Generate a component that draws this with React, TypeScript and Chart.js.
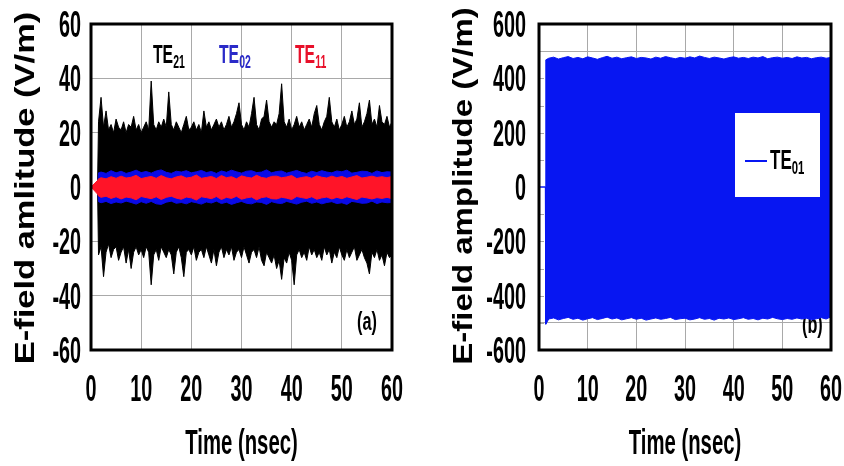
import React, { useEffect, useRef } from 'react';
import { Chart, registerables } from 'chart.js';

Chart.register(...registerables);

// ---------- axis ticks ----------
const X_TICKS = [0, 10, 20, 30, 40, 50, 60];
const Y_TICKS_A = [60, 40, 20, 0, -20, -40, -60];
const Y_TICKS_B = [600, 400, 200, 0, -200, -400, -600];
const Y_MINOR_B = [500, 400, 300, 200, 100, -100, -200, -300, -400, -500];

// ---------- time samples (ns) ----------
const T_FINE = [0, 1.3, ...Array.from({ length: 118 }, (_, i) => 1.5 + i * 0.5)];
const T_COARSE = [0, 1.3, 1.5, ...Array.from({ length: 59 }, (_, i) => 2 + i)];
const T_B = [0, 1.3, 1.4, ...Array.from({ length: 59 }, (_, i) => 2 + i)];

// ---------- panel (a): TE21 envelope (V/m) ----------
const TE21_HI = [0, 0,
  24, 33, 22, 28, 21, 23, 20, 25, 22, 21,
  24, 20, 23, 22, 26, 21, 23, 20, 22, 24,
  21, 39, 23, 21, 24, 22, 25, 22, 35, 23,
  21, 24, 22, 20, 23, 26, 21, 22, 24, 21,
  23, 20, 28, 22, 24, 21, 23, 25, 22, 24,
  21, 23, 26, 22, 24, 27, 31, 23, 21, 24,
  22, 27, 33, 23, 21, 25, 26, 32, 24, 22,
  24, 23, 27, 38, 24, 22, 25, 21, 23, 26,
  22, 24, 21, 23, 25, 22, 27, 30, 23, 21,
  24, 26, 33, 24, 22, 25, 21, 23, 26, 22,
  24, 28, 23, 25, 31, 22, 24, 27, 32, 23,
  25, 22, 30, 24, 23, 26, 22, 24];
const TE21_LO = [0, 0,
  -25, -22, -33, -24, -21, -26, -23, -22, -27, -24,
  -22, -28, -23, -30, -24, -22, -25, -23, -26, -22,
  -24, -36, -25, -23, -27, -22, -24, -26, -23, -25,
  -32, -24, -22, -26, -33, -24, -23, -25, -22, -27,
  -24, -23, -26, -22, -25, -28, -23, -29, -24, -22,
  -26, -23, -25, -22, -27, -24, -23, -26, -22, -25,
  -28, -24, -23, -26, -22, -27, -29, -24, -26, -28,
  -25, -30, -27, -34, -26, -28, -24, -27, -36, -25,
  -23, -26, -24, -27, -22, -25, -23, -26, -24, -27,
  -22, -25, -23, -28, -24, -26, -22, -25, -27, -23,
  -26, -24, -22, -27, -25, -23, -26, -28, -32, -24,
  -26, -23, -27, -25, -29, -24, -26, -25];

// ---------- panel (a): TE02 envelope ----------
const TE02_HI = [0, 0, 5.2,
  5.5, 5.0, 6.0, 5.2, 5.8, 5.0, 5.5, 6.2, 5.3, 5.7,
  5.1, 5.9, 6.3, 5.4, 5.0, 5.8, 5.5, 6.0, 5.2, 5.6,
  6.1, 5.3, 5.7, 5.0, 5.9, 5.4, 6.2, 5.6, 5.1, 5.8,
  6.0, 5.3, 5.5, 6.3, 5.2, 5.7, 5.9, 5.1, 5.6, 6.1,
  5.4, 5.0, 5.8, 5.3, 6.0, 5.5, 5.2, 5.9, 5.6, 6.2,
  5.1, 5.4, 5.8, 5.7, 5.0, 5.9, 5.3, 5.6, 5.5];
const TE02_LO = [0, 0, -5.4,
  -5.8, -5.3, -6.1, -5.5, -5.9, -5.2, -5.7, -6.3, -5.4, -6.0,
  -5.3, -6.2, -6.4, -5.6, -5.2, -6.0, -5.7, -6.2, -5.4, -5.8,
  -6.3, -5.5, -5.9, -5.2, -6.1, -5.6, -6.4, -5.8, -5.3, -6.0,
  -6.2, -5.5, -5.7, -6.4, -5.4, -5.9, -6.1, -5.3, -5.8, -6.3,
  -5.6, -5.2, -6.0, -5.5, -6.2, -5.7, -5.4, -6.1, -5.8, -6.4,
  -5.3, -5.6, -6.0, -5.9, -5.2, -6.1, -5.5, -5.8, -5.7];

// ---------- panel (a): TE11 envelope ----------
const TE11_HI = [0, 2.4, 3.0,
  3.4, 3.0, 3.8, 3.2, 4.0, 3.3, 3.6, 4.3, 3.1, 3.5,
  3.9, 3.2, 4.2, 3.4, 3.0, 3.7, 4.1, 3.3, 3.6, 4.4,
  3.2, 3.5, 3.9, 3.1, 4.2, 3.4, 3.8, 3.0, 4.1, 3.6,
  3.3, 4.3, 3.5, 3.2, 3.9, 4.0, 3.4, 3.7, 4.2, 3.1,
  3.5, 3.8, 3.2, 4.1, 3.6, 3.3, 4.0, 3.4, 3.9, 3.2,
  3.7, 4.2, 3.3, 3.6, 4.0, 3.5, 3.8, 3.4, 3.9];
const TE11_LO = [0, -2.6, -3.3,
  -3.8, -3.4, -4.2, -3.6, -4.4, -3.7, -4.0, -4.7, -3.5, -3.9,
  -4.3, -3.6, -4.6, -3.8, -3.4, -4.1, -4.5, -3.7, -4.0, -4.8,
  -3.6, -3.9, -4.3, -3.5, -4.6, -3.8, -4.2, -3.4, -4.5, -4.0,
  -3.7, -4.7, -3.9, -3.6, -4.3, -4.4, -3.8, -4.1, -4.6, -3.5,
  -3.9, -4.2, -3.6, -4.5, -4.0, -3.7, -4.4, -3.8, -4.3, -3.6,
  -4.1, -4.6, -3.7, -4.0, -4.4, -3.9, -4.2, -3.8, -4.3];

// ---------- panel (b): TE01 envelope ----------
const TE01_HI = [0, 0, 468,
  474, 478, 471, 476, 480, 473, 477, 472, 479, 475,
  470, 476, 481, 474, 478, 472, 476, 479, 473, 477,
  475, 471, 478, 474, 480, 476, 472, 477, 474, 479,
  475, 482, 477, 473, 478, 475, 471, 476, 479, 474,
  477, 473, 478, 475, 480, 472, 476, 478, 474, 477,
  473, 479, 475, 477, 472, 476, 478, 474, 477];
const TE01_LO = [0, 0, -505,
  -486, -482, -489, -484, -480, -487, -483, -490, -485, -481,
  -488, -484, -479, -486, -482, -489, -485, -481, -487, -483,
  -490, -486, -482, -487, -484, -480, -488, -485, -483, -489,
  -486, -481, -487, -484, -490, -483, -486, -482, -488, -485,
  -481, -487, -484, -489, -483, -486, -480, -485, -488, -484,
  -487, -482, -486, -483, -489, -485, -481, -486, -478];

const COL_BLACK = '#000000';
const COL_BLUE = '#0a0ae6';
const COL_RED = '#ff1428';
const COL_BLUE_B = '#0716f2';
const GRID = '#a9a9a9';
const FONT = '"Liberation Sans", Arial, sans-serif';

const pts = (t: number[], v: number[]) => v.map((y, i) => ({ x: t[i], y }));

type TxtOpt = { size: number; sx?: number; sy?: number; align?: CanvasTextAlign; color?: string; rot?: boolean };
function txt(ctx: CanvasRenderingContext2D, s: string, x: number, y: number, o: TxtOpt) {
  const { size, sx = 0.56, sy = 1, align = 'left', color = '#000', rot = false } = o;
  ctx.save();
  ctx.translate(x, y);
  if (rot) ctx.rotate(-Math.PI / 2);
  ctx.scale(sx, sy);
  ctx.font = `bold ${size}px ${FONT}`;
  ctx.fillStyle = color;
  ctx.textAlign = align;
  ctx.textBaseline = 'alphabetic';
  ctx.fillText(s, 0, 0);
  const w = ctx.measureText(s).width * sx;
  ctx.restore();
  return w;
}
function subTxt(ctx: CanvasRenderingContext2D, main: string, sub: string, x: number, base: number, color: string, size = 25) {
  const w = txt(ctx, main, x, base, { size, sx: 0.63, color });
  txt(ctx, sub, x + w, base + 5, { size: size * 0.7, sx: 0.6, color });
}

type Panel = {
  yTicks: number[];
  yLabelRight: number;
  yTitle: string;
  yTitleX: number;
  yTitleY: number;
  yTitleSize: number;
  yTitleSy: number;
  under?: (ctx: CanvasRenderingContext2D, chart: any) => void;
  over?: (ctx: CanvasRenderingContext2D, chart: any) => void;
};

function panelPlugin(p: Panel) {
  return {
    id: 'panelDecor',
    beforeDatasetsDraw(chart: any) {
      if (p.under) p.under(chart.ctx, chart);
    },
    afterDraw(chart: any) {
      const ctx: CanvasRenderingContext2D = chart.ctx;
      const { left, top, right, bottom } = chart.chartArea;
      const xs = chart.scales.x;
      const ys = chart.scales.y;
      // frame
      ctx.save();
      ctx.strokeStyle = '#000';
      ctx.lineWidth = 3;
      ctx.strokeRect(left, top, right - left, bottom - top);
      ctx.restore();
      // tick labels
      X_TICKS.forEach((v) => {
        txt(ctx, String(v), xs.getPixelForValue(v), 401, { size: 36, sx: 0.55, align: 'center' });
      });
      p.yTicks.forEach((v) => {
        txt(ctx, String(v), p.yLabelRight, ys.getPixelForValue(v) + 12.9, { size: 36, sx: 0.55, align: 'right' });
      });
      // titles
      txt(ctx, 'Time (nsec)', (left + right) / 2, 454, { size: 35, sx: 0.58, align: 'center' });
      txt(ctx, p.yTitle, p.yTitleX, p.yTitleY, { size: p.yTitleSize, sx: 1, sy: p.yTitleSy, align: 'center', rot: true });
      if (p.over) p.over(ctx, chart);
    },
  };
}

function baseOptions(padding: any, yMin: number, yMax: number, yStep: number, gridColor: any) {
  return {
    responsive: false,
    animation: false as const,
    events: [],
    layout: { padding },
    plugins: { legend: { display: false }, tooltip: { enabled: false } },
    elements: { point: { radius: 0 }, line: { tension: 0, borderWidth: 1 } },
    scales: {
      x: {
        type: 'linear' as const,
        min: 0,
        max: 60,
        ticks: { display: false, stepSize: 10 },
        grid: { color: GRID, lineWidth: 1, drawTicks: false },
        border: { display: false },
        afterFit: (s: any) => { s.height = 0; },
      },
      y: {
        type: 'linear' as const,
        min: yMin,
        max: yMax,
        ticks: { display: false, stepSize: yStep },
        grid: { color: gridColor, lineWidth: 1, drawTicks: false },
        border: { display: false },
        afterFit: (s: any) => { s.width = 0; },
      },
    },
  };
}

export default function App() {
  const refA = useRef<HTMLCanvasElement>(null);
  const refB = useRef<HTMLCanvasElement>(null);

  useEffect(() => {
    const ds = (data: any[], color: string, fill: any) => ({
      data, borderColor: color, backgroundColor: color, fill, borderWidth: 1, pointRadius: 0,
    });

    const chartA = new Chart(refA.current as HTMLCanvasElement, {
      type: 'line',
      data: {
        datasets: [
          ds(pts(T_COARSE, TE11_HI), COL_RED, '+1'),
          ds(pts(T_COARSE, TE11_LO), COL_RED, false),
          ds(pts(T_COARSE, TE02_HI), COL_BLUE, '+1'),
          ds(pts(T_COARSE, TE02_LO), COL_BLUE, false),
          ds(pts(T_FINE, TE21_HI), COL_BLACK, '+1'),
          ds(pts(T_FINE, TE21_LO), COL_BLACK, false),
        ],
      },
      options: baseOptions({ left: 91, top: 24, right: 30, bottom: 116 }, -60, 60, 20, GRID) as any,
      plugins: [
        panelPlugin({
          yTicks: Y_TICKS_A,
          yLabelRight: 81,
          yTitle: 'E-field amlitude (V/m)',
          yTitleX: 34,
          yTitleY: 188,
          yTitleSize: 34.5,
          yTitleSy: 0.81,
          over: (ctx) => {
            subTxt(ctx, 'TE', '21', 153, 63, '#000000');
            subTxt(ctx, 'TE', '02', 219, 63, '#2a2ac8');
            subTxt(ctx, 'TE', '11', 295, 63, '#e8102a');
            txt(ctx, '(a)', 357, 330, { size: 25, sx: 0.65 });
          },
        }) as any,
      ],
    });

    const chartB = new Chart(refB.current as HTMLCanvasElement, {
      type: 'line',
      data: {
        datasets: [
          ds(pts(T_B, TE01_HI), COL_BLUE_B, '+1'),
          ds(pts(T_B, TE01_LO), COL_BLUE_B, false),
        ],
      },
      options: baseOptions({ left: 117, top: 24, right: 13, bottom: 116 }, -600, 600, 100,
        (c: any) => (c.tick && Math.abs(c.tick.value) === 500 ? GRID : 'rgba(0,0,0,0)')) as any,
      plugins: [
        panelPlugin({
          yTicks: Y_TICKS_B,
          yLabelRight: 104,
          yTitle: 'E-field amplitude (V/m)',
          yTitleX: 50,
          yTitleY: 186,
          yTitleSize: 33,
          yTitleSy: 0.85,
          under: (ctx, chart) => {
            const ys = chart.scales.y;
            const { left } = chart.chartArea;
            ctx.save();
            ctx.strokeStyle = GRID;
            ctx.lineWidth = 1;
            Y_MINOR_B.forEach((v) => {
              const y = Math.round(ys.getPixelForValue(v)) + 0.5;
              ctx.beginPath();
              ctx.moveTo(left, y);
              ctx.lineTo(left + 5, y);
              ctx.stroke();
            });
            ctx.restore();
            txt(ctx, '(b)', 380, 333, { size: 25, sx: 0.65 });
          },
          over: (ctx) => {
            ctx.save();
            ctx.fillStyle = '#ffffff';
            ctx.fillRect(313, 113, 85, 84);
            ctx.strokeStyle = COL_BLUE_B;
            ctx.lineWidth = 2;
            ctx.beginPath();
            ctx.moveTo(323, 161);
            ctx.lineTo(345, 161);
            ctx.stroke();
            ctx.restore();
            subTxt(ctx, 'TE', '01', 348, 169, '#000000', 27);
          },
        }) as any,
      ],
    });

    return () => {
      chartA.destroy();
      chartB.destroy();
    };
  }, []);

  return (
    <div style={{ position: 'absolute', left: 0, top: 0, width: 844, height: 466, background: '#fff' }}>
      <canvas ref={refA} width={422} height={466} style={{ position: 'absolute', left: 0, top: 0, width: 422, height: 466 }} />
      <canvas ref={refB} width={422} height={466} style={{ position: 'absolute', left: 422, top: 0, width: 422, height: 466 }} />
    </div>
  );
}
